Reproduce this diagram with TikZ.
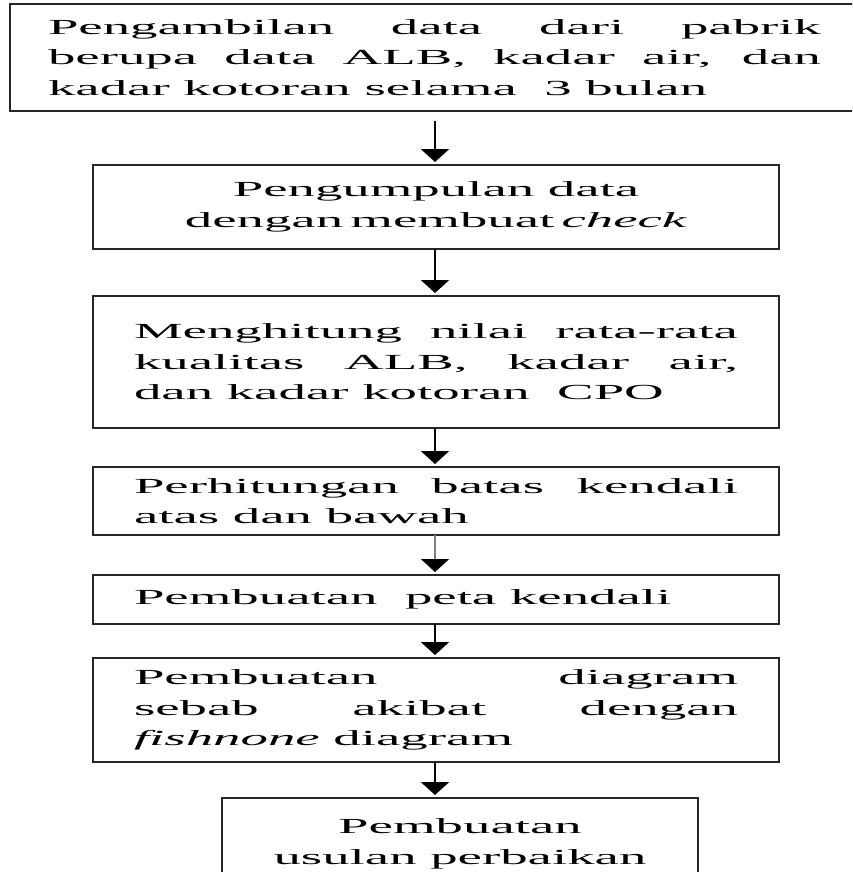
\documentclass[tikz,border=0pt]{standalone}
\usepackage{fontspec}
\setmainfont{Liberation Serif}[FakeStretch=2.55]
\usetikzlibrary{arrows.meta,positioning}
\tolerance=10000
\hyphenpenalty=10000

\begin{document}
\begin{tikzpicture}[x=1pt,y=-1pt,shorten >=3pt,
   proc/.style={draw=black!85,line width=2pt,outer sep=0pt,inner xsep=41pt,inner ysep=0pt,
     text width=604pt,align=justify,font=\fontsize{21.5}{30.5}\selectfont},
   flow/.style={-{Triangle[width=28pt,length=13pt]},line width=2.5pt}]
   \useasboundingbox (0,0) rectangle (852,872);
   \clip (0,0) rectangle (852,872);
   \coordinate (ax) at (435,0);
   \node [proc,anchor=north west,text width=773pt,inner xsep=38pt,minimum height=107pt] (S_1) at (10,4)
     {Pengambilan data dari pabrik\linebreak berupa data ALB, kadar air, dan\linebreak kadar kotoran selama\ \ 3 bulan};
   \node [proc,align=center,minimum height=84pt] (S_2) at (436,207)
     {Pengumpulan\hspace{.3em} data\\ dengan membuat \textit{check}};
   \node [proc,minimum height=132pt] (S_3) [below=47pt of S_2]
     {Menghitung nilai rata-rata\linebreak kualitas ALB, kadar air,\linebreak dan kadar kotoran\ \ CPO};
   \node [proc,minimum height=68pt] (S_4) [below=39pt of S_3]
     {Perhitungan batas kendali\linebreak atas dan bawah};
   \node [proc,minimum height=49pt] (S_5) [below=40pt of S_4]
     {Pembuatan\ \ peta kendali};
   \node [proc,minimum height=104pt] (S_6) [below=34pt of S_5]
     {Pembuatan diagram\linebreak sebab akibat dengan\linebreak \textit{fishnone} diagram};
   \node [proc,align=center,text width=394pt,minimum height=92pt] (S_7) [below=36pt of S_6,xshift=24pt]
     {Pembuatan\\ usulan\hspace{.3em} perbaikan};
   \path[flow]
   (S_1.south -| ax) edge [shorten <=10pt] (S_2.north -| ax)
   (S_2.south -| ax) edge (S_3.north -| ax)
   (S_3.south -| ax) edge (S_4.north -| ax)
   (S_4.south -| ax) edge [draw=gray,-{Triangle[width=28pt,length=13pt,black]}] (S_5.north -| ax)
   (S_5.south -| ax) edge (S_6.north -| ax)
   (S_6.south -| ax) edge (S_7.north -| ax);
\end{tikzpicture}
\end{document}
